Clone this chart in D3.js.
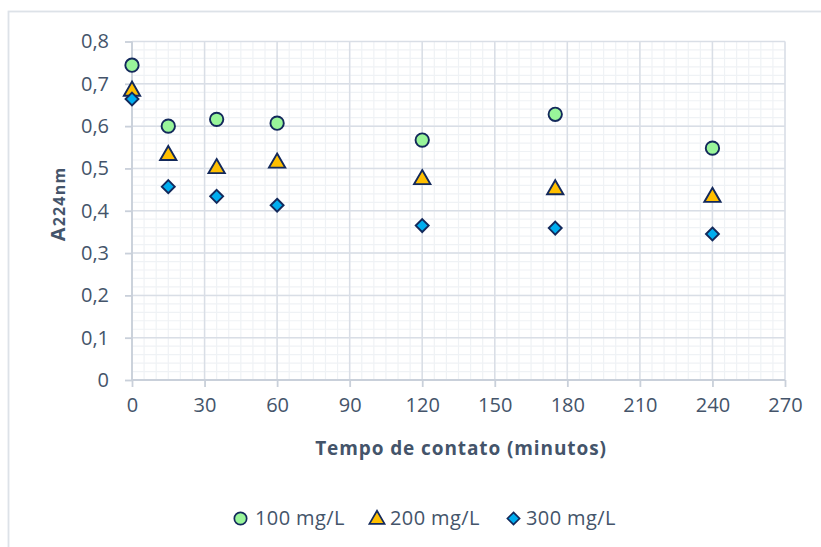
<!DOCTYPE html>
<html>
<head>
<meta charset="utf-8">
<script src="https://cdn.jsdelivr.net/npm/d3@7"></script>
<style>
  html, body { margin: 0; padding: 0; background: #fff; }
  svg { display: block; font-family: "Open Sans", sans-serif; }
</style>
</head>
<body>
<svg id="chart" width="821" height="547"></svg>
<script>
// Contact time (minutes) and absorbance at 224 nm for each initial concentration
const times = [0, 15, 35, 60, 120, 175, 240];
const series100 = [0.744, 0.600, 0.616, 0.607, 0.567, 0.628, 0.548];
const series200 = [0.683, 0.531, 0.500, 0.513, 0.474, 0.450, 0.432];
const series300 = [0.664, 0.457, 0.434, 0.413, 0.365, 0.359, 0.345];
const seriesNames = ["100 mg/L", "200 mg/L", "300 mg/L"];
const xTicks = [0, 30, 60, 90, 120, 150, 180, 210, 240, 270];
const yTicks = [0, 0.1, 0.2, 0.3, 0.4, 0.5, 0.6, 0.7, 0.8];

const svg = d3.select("#chart");
const textColor = "#44546a";
const markerStroke = "#13295b";

// outer chart frame
svg.append("rect")
  .attr("x", 8.5).attr("y", 11.5)
  .attr("width", 830).attr("height", 560)
  .attr("fill", "none").attr("stroke", "#dde2e8").attr("stroke-width", 1.8);

const x = d3.scaleLinear().domain([0, 270]).range([132, 785]);
const y = d3.scaleLinear().domain([0, 0.8]).range([380, 41.5]);

// minor gridlines
const g = svg.append("g");
g.selectAll("line.mx").data(d3.range(0, 271, 5)).join("line")
  .attr("x1", d => x(d)).attr("x2", d => x(d))
  .attr("y1", y(0)).attr("y2", y(0.8))
  .attr("stroke", "#eff2f5").attr("stroke-width", 1.2);
g.selectAll("line.my").data(d3.range(0, 41).map(i => i * 0.02)).join("line")
  .attr("x1", x(0)).attr("x2", x(270))
  .attr("y1", d => y(d)).attr("y2", d => y(d))
  .attr("stroke", "#eff2f5").attr("stroke-width", 1.2);

// major gridlines
g.selectAll("line.Mx").data(xTicks).join("line")
  .attr("x1", d => x(d)).attr("x2", d => x(d))
  .attr("y1", y(0)).attr("y2", y(0.8))
  .attr("stroke", "#d9dee6").attr("stroke-width", 1.5);
g.selectAll("line.My").data(yTicks).join("line")
  .attr("x1", x(0)).attr("x2", x(270))
  .attr("y1", d => y(d)).attr("y2", d => y(d))
  .attr("stroke", "#d9dee6").attr("stroke-width", 1.5);

// axes
const xAxis = svg.append("g")
  .attr("transform", `translate(0,${y(0)})`)
  .call(d3.axisBottom(x).tickValues(xTicks).tickSize(7).tickPadding(11).tickFormat(d3.format("d")));
const yAxis = svg.append("g")
  .attr("transform", `translate(${x(0)},0)`)
  .call(d3.axisLeft(y).tickValues(yTicks).tickSize(7).tickPadding(16)
    .tickFormat(d => d === 0 ? "0" : d3.format(".1f")(d).replace(".", ",")));
[xAxis, yAxis].forEach(a => {
  a.select(".domain").attr("stroke", "#c9d0da").attr("stroke-width", 1.8);
  a.selectAll(".tick line").attr("stroke", "#c9d0da").attr("stroke-width", 1.8);
  a.selectAll(".tick text").attr("fill", textColor)
    .style("font-size", "20px")
    .style("font-family", "'Open Sans', sans-serif");
});
xAxis.select(".domain").attr("d", `M${x(0)},0H${x(270)}`);
yAxis.select(".domain").attr("d", `M0,${y(0)}V${y(0.8)}`);

// axis titles
svg.append("text")
  .attr("x", 461).attr("y", 455)
  .attr("text-anchor", "middle")
  .attr("fill", textColor).attr("font-weight", "bold").attr("font-size", 19)
  .attr("letter-spacing", 0.9)
  .text("Tempo de contato (minutos)");

const yt = svg.append("text")
  .attr("transform", "translate(65,204) rotate(-90)")
  .attr("text-anchor", "middle")
  .attr("fill", textColor).attr("font-weight", "bold").attr("letter-spacing", 1.2);
yt.append("tspan").attr("font-size", 20).text("A");
yt.append("tspan").attr("font-size", 16).text("224nm");

// square rotated 45°, equal width and height
const symbolRhombus = {
  draw(ctx, size) {
    const r = Math.sqrt(size / 2);
    ctx.moveTo(0, -r); ctx.lineTo(r, 0); ctx.lineTo(0, r); ctx.lineTo(-r, 0); ctx.closePath();
  }
};

// marker shapes
const shapes = [
  { sym: d3.symbolCircle, size: 140, fill: "#99f59a" },
  { sym: d3.symbolTriangle, size: 115, fill: "#ffbf00" },
  { sym: symbolRhombus, size: 84, fill: "#00adef" }
];
const allSeries = [series100, series200, series300];

allSeries.forEach((vals, i) => {
  const s = shapes[i];
  const path = d3.symbol().type(s.sym).size(s.size);
  svg.append("g").selectAll("path").data(vals).join("path")
    .attr("d", path)
    .attr("transform", (d, j) => `translate(${x(times[j])},${y(d)})`)
    .attr("fill", s.fill).attr("stroke", markerStroke).attr("stroke-width", 1.9);
});

// legend
const legendX = [240.5, 377, 513.5];
const legendText = [255, 390, 526];
const leg = svg.append("g");
seriesNames.forEach((name, i) => {
  const s = shapes[i];
  const size = i === 0 ? 120 : i === 1 ? 100 : 74;
  leg.append("path")
    .attr("d", d3.symbol().type(s.sym).size(size))
    .attr("transform", `translate(${legendX[i]},${i === 1 ? 519.5 : 518.5})`)
    .attr("fill", s.fill).attr("stroke", markerStroke).attr("stroke-width", 1.7);
  leg.append("text")
    .attr("x", legendText[i]).attr("y", 525)
    .attr("fill", textColor).attr("font-size", 20).attr("letter-spacing", 0.4)
    .text(name);
});
</script>
</body>
</html>
